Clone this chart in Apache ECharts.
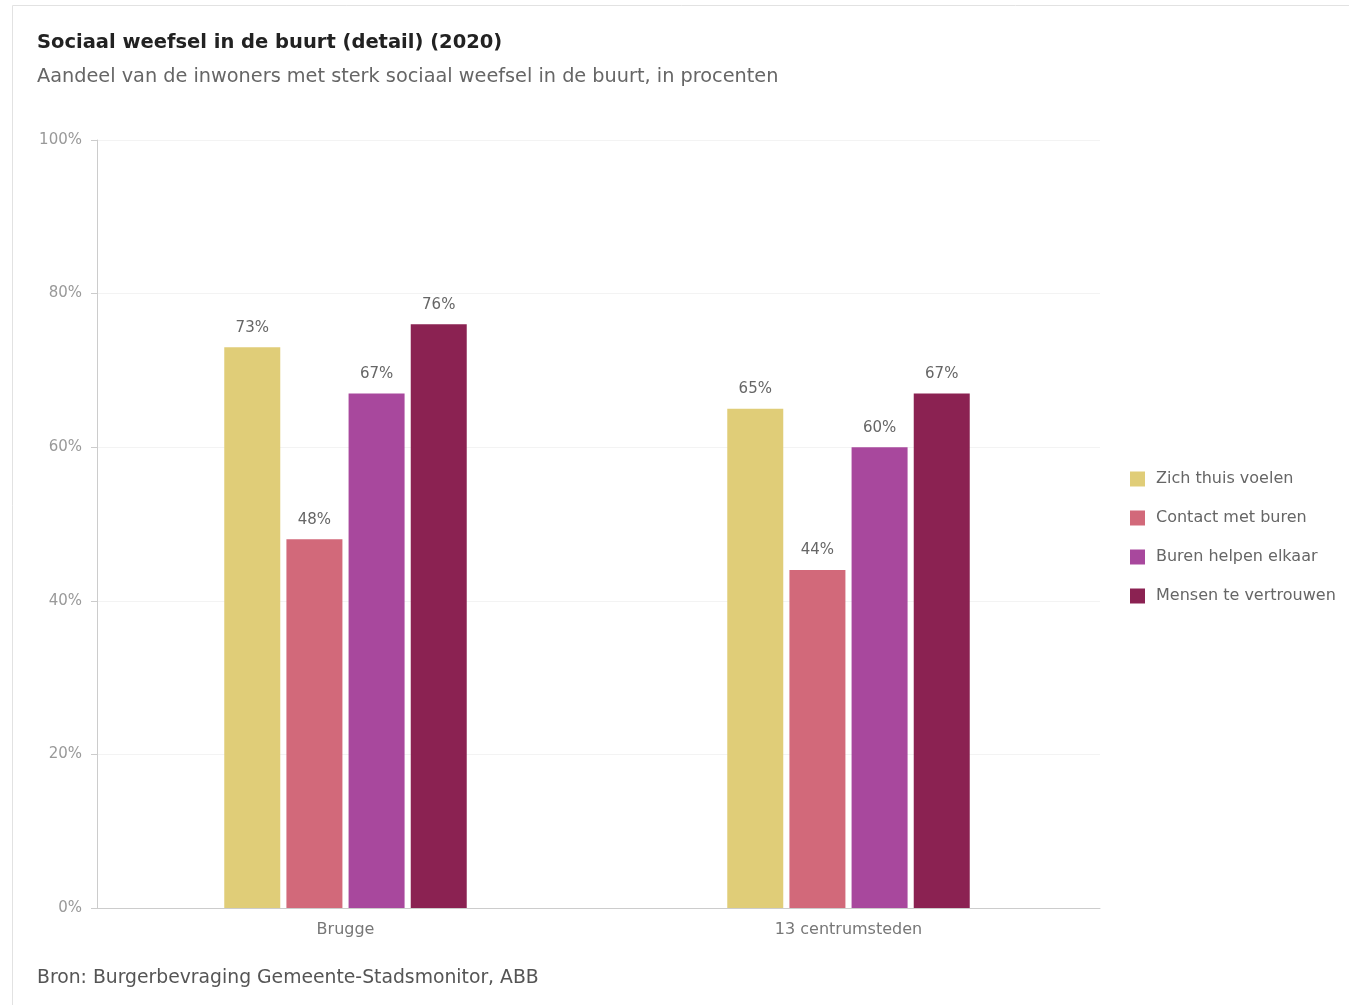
<!DOCTYPE html>
<html>
<head>
<meta charset="utf-8">
<script src="https://cdn.jsdelivr.net/npm/echarts@6/dist/echarts.min.js"></script>
<style>
  html, body { margin: 0; padding: 0; background: #fff; }
  #chart { width: 1349px; height: 1005px; }
</style>
</head>
<body>
<div id="chart"></div>
<script>
const categories = ['Brugge', '13 centrumsteden'];
const seriesNames = ['Zich thuis voelen', 'Contact met buren', 'Buren helpen elkaar', 'Mensen te vertrouwen'];
const zichThuisVoelen = [73, 65];
const contactMetBuren = [48, 44];
const burenHelpenElkaar = [67, 60];
const mensenTeVertrouwen = [76, 67];
const colors = ['#E0CD78', '#D2697A', '#A8489D', '#8B2252'];

const font = '"DejaVu Sans", "Open Sans", sans-serif';

var makeSeries = (name, data, color) => {
    return {
        name: name,
        type: 'bar',
        data: data,
        barWidth: 56,
        barGap: '11%',
        itemStyle: { color: color },
        label: {
            show: true,
            position: 'top',
            distance: 12,
            formatter: '{c}%',
            color: '#666',
            fontSize: 15,
            fontFamily: font
        }
    };
};

var chart = echarts.init(document.getElementById('chart'));

chart.setOption({
    backgroundColor: '#fff',
    animation: false,
    color: colors,
    graphic: [
        {
            type: 'rect',
            shape: { x: 12.5, y: 5.5, width: 1360, height: 1020 },
            style: { fill: 'none', stroke: '#e2e2e2', lineWidth: 1 },
            z: -1
        }
    ],
    title: [
        {
            text: 'Sociaal weefsel in de buurt (detail) (2020)',
            left: 32,
            top: 28,
            textStyle: { fontFamily: font, fontSize: 19.5, fontWeight: 'bold', color: '#222' }
        },
        {
            text: 'Aandeel van de inwoners met sterk sociaal weefsel in de buurt, in procenten',
            left: 32,
            top: 62,
            textStyle: { fontFamily: font, fontSize: 19.3, fontWeight: 'normal', color: '#666' }
        },
        {
            text: 'Bron: Burgerbevraging Gemeente-Stadsmonitor, ABB',
            left: 32,
            top: 964,
            textStyle: { fontFamily: font, fontSize: 18.8, fontWeight: 'normal', color: '#555' }
        }
    ],
    legend: {
        orient: 'vertical',
        left: 1125,
        top: 466,
        itemWidth: 15,
        itemHeight: 15,
        itemGap: 23,
        icon: 'rect',
        data: seriesNames,
        textStyle: { fontFamily: font, fontSize: 16, color: '#666', padding: [0, 0, 0, 6] }
    },
    grid: {
        left: 94,
        right: 249,
        top: 140,
        bottom: 97,
        containLabel: false
    },
    xAxis: {
        type: 'category',
        data: categories,
        axisLine: { lineStyle: { color: '#ccc' } },
        axisTick: { show: false },
        axisLabel: { color: '#777', fontSize: 16, fontFamily: font, margin: 14 }
    },
    yAxis: {
        type: 'value',
        min: 0,
        max: 100,
        interval: 20,
        offset: -3,
        axisLine: { show: true, lineStyle: { color: '#ccc' } },
        axisTick: { show: true, length: 6, lineStyle: { color: '#ccc' } },
        axisLabel: { formatter: '{value}%', color: '#999', fontSize: 15, fontFamily: font, margin: 15 },
        splitLine: { lineStyle: { color: '#f3f3f3' } }
    },
    series: [
        makeSeries(seriesNames[0], zichThuisVoelen, colors[0]),
        makeSeries(seriesNames[1], contactMetBuren, colors[1]),
        makeSeries(seriesNames[2], burenHelpenElkaar, colors[2]),
        makeSeries(seriesNames[3], mensenTeVertrouwen, colors[3])
    ]
});
</script>
</body>
</html>
